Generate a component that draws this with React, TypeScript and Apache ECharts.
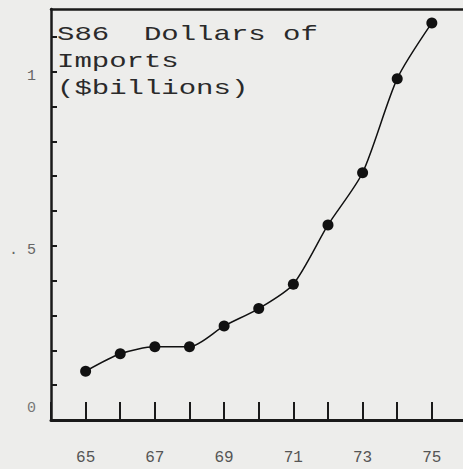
import React, { useEffect, useRef } from "react";
import * as echarts from "echarts";

const years = [65, 66, 67, 68, 69, 70, 71, 72, 73, 74, 75];
const imports = [0.14, 0.19, 0.21, 0.21, 0.27, 0.32, 0.39, 0.56, 0.71, 0.98, 1.14];
const titleLines = ["S86  Dollars of", "Imports", "($billions)"];
const yLabelMap: Record<number, string> = { 0: "{z|0}", 5: "{a|. 5}", 10: "{a|1}" };

const MONO = "'Liberation Mono', 'DejaVu Sans Mono', monospace";

export default function App() {
  const ref = useRef<HTMLDivElement>(null);
  useEffect(() => {
    if (!ref.current) return;
    const chart = echarts.init(ref.current, undefined, { renderer: "svg" });
    chart.setOption({
      animation: false,
      backgroundColor: "#ededeb",
      grid: { left: 51, right: 0, top: 9, bottom: 49 },
      xAxis: [
        {
          type: "value",
          min: 64,
          max: 75.9,
          interval: 1,
          axisLine: { show: true, lineStyle: { color: "#1a1a1a", width: 3 } },
          axisTick: { show: true, inside: true, length: 18, lineStyle: { color: "#1a1a1a", width: 2 } },
          splitLine: { show: false },
          axisLabel: {
            margin: 30,
            fontFamily: MONO,
            fontSize: 16,
            color: "#555",
            showMaxLabel: false,
            formatter: (v: number) => {
              const r = Math.round(v);
              return Math.abs(v - r) < 1e-6 && r % 2 === 1 ? String(r) : "";
            },
          },
        },
        {
          type: "value",
          position: "top",
          min: 64,
          max: 75.9,
          axisLine: { show: true, lineStyle: { color: "#1a1a1a", width: 2.5 } },
          axisTick: { show: false },
          axisLabel: { show: false },
          splitLine: { show: false },
        },
      ],
      yAxis: {
        type: "value",
        min: 0,
        max: 1.18,
        interval: 0.1,
        axisLine: { show: true, lineStyle: { color: "#1a1a1a", width: 2.5 } },
        axisTick: { show: true, inside: true, length: 6, lineStyle: { color: "#1a1a1a", width: 2 } },
        splitLine: { show: false },
        axisLabel: {
          margin: 15,
          fontFamily: MONO,
          fontSize: 15,
          color: "#666",
          showMaxLabel: false,
          formatter: (v: number) => yLabelMap[Math.round(v * 10)] || "",
          rich: {
            z: { fontFamily: MONO, fontSize: 15, color: "#777", padding: [0, 0, 24, 0] },
            a: { fontFamily: MONO, fontSize: 15, color: "#666", padding: [10, 0, 0, 0] },
          },
        },
      },
      graphic: [
        {
          type: "text",
          x: 57,
          y: 21,
          scaleX: 1.45,
          style: {
            text: titleLines.join("\n"),
            font: `20px ${MONO}`,
            fill: "#2a2a2a",
            lineHeight: 27,
          },
        },
      ],
      series: [
        {
          type: "line",
          data: years.map((y, i) => [y, imports[i]]),
          smooth: 0.25,
          symbol: "circle",
          symbolSize: 11,
          itemStyle: { color: "#111" },
          lineStyle: { color: "#111", width: 1.5 },
        },
      ],
    });
    return () => chart.dispose();
  }, []);
  return <div ref={ref} style={{ width: 463, height: 469, position: "absolute", left: 0, top: 0 }} />;
}
